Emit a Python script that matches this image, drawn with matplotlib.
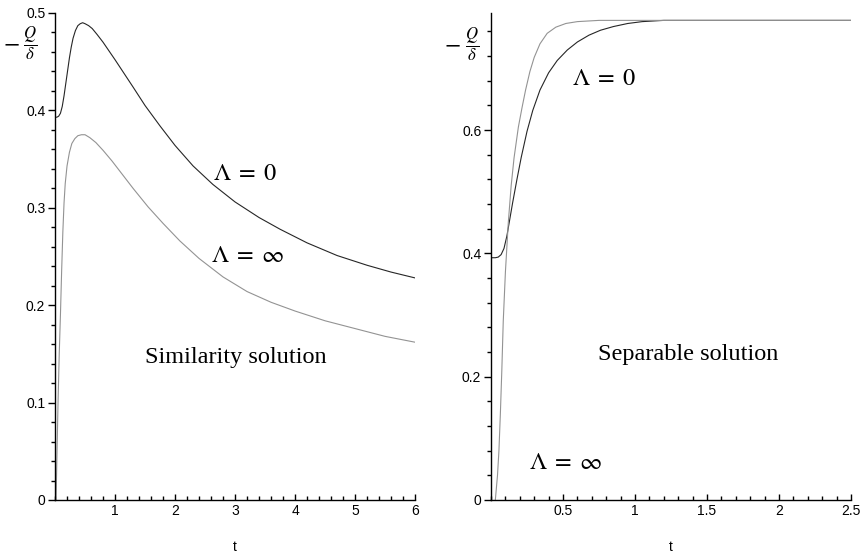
import numpy as np
import matplotlib
matplotlib.use("Agg")
from matplotlib import pyplot as plt
from matplotlib.ticker import MultipleLocator, FixedLocator

plt.rcParams['mathtext.fontset'] = 'stix'
plt.rcParams['font.family'] = ['Liberation Sans', 'DejaVu Sans']

# similarity solution, -Q/delta against t
sim_t0 = [0, 0.03, 0.06, 0.09, 0.12, 0.15, 0.18, 0.21, 0.24, 0.27, 0.30, 0.34,
          0.38, 0.42, 0.46, 0.50, 0.56, 0.62, 0.70, 0.80, 0.90, 1.00, 1.15,
          1.30, 1.50, 1.75, 2.00, 2.30, 2.63, 3.00, 3.40, 3.75, 4.20, 4.70,
          5.20, 5.60, 6.00]
sim_q0 = [0.393, 0.393, 0.394, 0.397, 0.404, 0.415, 0.428, 0.441, 0.454, 0.465,
          0.474, 0.482, 0.487, 0.489, 0.490, 0.489, 0.487, 0.484, 0.478, 0.470,
          0.461, 0.452, 0.438, 0.424, 0.405, 0.384, 0.364, 0.343, 0.324, 0.306,
          0.290, 0.278, 0.264, 0.251, 0.241, 0.234, 0.228]
sim_tinf = [0.017, 0.03, 0.05, 0.07, 0.09, 0.11, 0.13, 0.15, 0.17, 0.20, 0.24,
            0.28, 0.33, 0.38, 0.44, 0.50, 0.58, 0.68, 0.80, 0.95, 1.10, 1.30,
            1.55, 1.80, 2.08, 2.40, 2.80, 3.20, 3.60, 4.00, 4.50, 5.00, 5.50,
            6.00]
sim_qinf = [0.0, 0.04, 0.10, 0.15, 0.19, 0.235, 0.275, 0.305, 0.325, 0.343,
            0.357, 0.366, 0.371, 0.374, 0.375, 0.375, 0.372, 0.367, 0.359,
            0.348, 0.336, 0.320, 0.301, 0.284, 0.266, 0.248, 0.229, 0.214,
            0.203, 0.194, 0.184, 0.176, 0.168, 0.162]

# separable solution
sep_t0 = [0, 0.03, 0.05, 0.07, 0.09, 0.11, 0.13, 0.15, 0.18, 0.21, 0.25, 0.29,
          0.34, 0.40, 0.46, 0.53, 0.60, 0.68, 0.76, 0.85, 0.95, 1.05, 1.20,
          1.40, 2.50]
sep_q0 = [0.393, 0.393, 0.394, 0.398, 0.408, 0.428, 0.455, 0.482, 0.520, 0.556,
          0.598, 0.632, 0.665, 0.693, 0.713, 0.730, 0.743, 0.754, 0.762, 0.768,
          0.773, 0.776, 0.778, 0.778, 0.778]
sep_tinf = [0.03, 0.045, 0.055, 0.065, 0.075, 0.085, 0.10, 0.12, 0.14, 0.16,
            0.19, 0.215, 0.24, 0.27, 0.30, 0.34, 0.39, 0.45, 0.52, 0.60, 0.75,
            1.00, 2.50]
sep_qinf = [0.0, 0.04, 0.08, 0.14, 0.21, 0.29, 0.37, 0.45, 0.51, 0.555, 0.605,
            0.636, 0.665, 0.695, 0.718, 0.740, 0.757, 0.767, 0.773, 0.776,
            0.778, 0.778, 0.778]

dark = '#262626'
grey = '#939393'
serif = 'Liberation Serif'

fig = plt.figure(figsize=(8.64, 5.55), dpi=100)
ax1 = fig.add_axes([0.0637, 0.0991, 0.4167, 0.8775])
ax2 = fig.add_axes([0.5683, 0.0991, 0.4167, 0.8775])


def style(ax, xmax, xmajor, xminor, ymax, ymajor, yminor):
    for s in ['top', 'right']:
        ax.spines[s].set_visible(False)
    ax.spines['left'].set_linewidth(1.0)
    ax.spines['bottom'].set_linewidth(1.0)
    ax.set_xlim(0, xmax)
    ax.set_ylim(0, ymax)
    ax.xaxis.set_major_locator(FixedLocator(np.arange(xmajor, xmax + 1e-9, xmajor)))
    ax.xaxis.set_minor_locator(MultipleLocator(xminor))
    ax.yaxis.set_major_locator(MultipleLocator(ymajor))
    ax.yaxis.set_minor_locator(MultipleLocator(yminor))
    ax.tick_params(axis='x', which='major', direction='in', length=4, width=1,
                   labelsize=10, pad=3)
    ax.tick_params(axis='x', which='minor', direction='in', length=3, width=1)
    ax.tick_params(axis='y', which='major', direction='out', length=5, width=1,
                   labelsize=10, pad=2)
    ax.tick_params(axis='y', which='minor', direction='out', length=3, width=1)
    fmt = plt.FuncFormatter(lambda v, p: '0' if abs(v) < 1e-9 else f'{v:g}')
    ax.xaxis.set_major_formatter(fmt)
    ax.yaxis.set_major_formatter(fmt)
    ax.set_xlabel('t', fontsize=10, labelpad=16)


style(ax1, 6, 1, 0.2, 0.5, 0.1, 0.02)
style(ax2, 2.5, 0.5, 0.1, 0.79, 0.2, 0.04)

ax1.plot(sim_t0, sim_q0, color=dark, lw=0.8)
ax1.plot(sim_tinf, sim_qinf, color=grey, lw=0.8)
ax2.plot(sep_t0, sep_q0, color=dark, lw=0.8)
ax2.plot(sep_tinf, sep_qinf, color=grey, lw=0.8)

lam0 = r'$\Lambda\;=\;0$'
laminf = r'$\Lambda\;=\;\infty$'
ax1.text(3.17, 0.335, lam0, fontsize=17.5, ha='center', va='center')
ax1.text(3.2, 0.251, laminf, fontsize=17.5, ha='center', va='center')
ax1.text(3.02, 0.146, 'Similarity solution', family=serif, fontsize=17.5,
         ha='center', va='center')

ax2.text(0.785, 0.683, lam0, fontsize=17.5, ha='center', va='center')
ax2.text(0.52, 0.06, laminf, fontsize=17.5, ha='center', va='center')
ax2.text(1.37, 0.236, 'Separable solution', family=serif, fontsize=17.5,
         ha='center', va='center')

# y label: a long minus sign followed by the fraction Q / delta
for xm, xf, yc in [(11, 30, 43), (452, 472, 44)]:
    fig.text(xm / 864, 1 - yc / 555, r'$-$', fontsize=17, ha='center', va='center')
    fig.text(xf / 864, 1 - yc / 555, r'$\dfrac{Q}{\delta}$', fontsize=12,
             ha='center', va='center')

fig.savefig('out.png', dpi=100)
